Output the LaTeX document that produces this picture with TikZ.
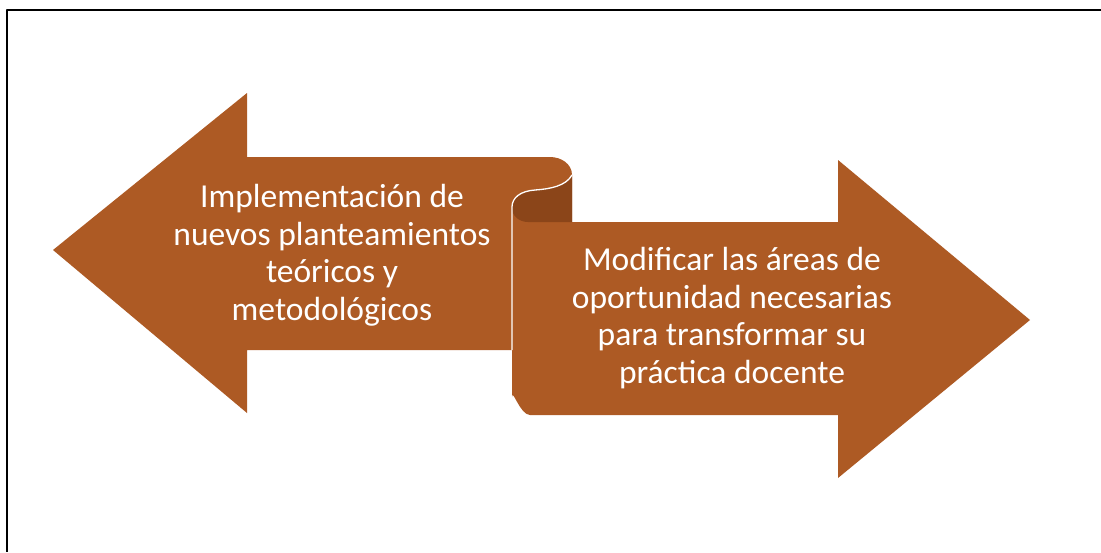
\documentclass[tikz,border=0pt]{standalone}
\usepackage{fontspec}
\setmainfont{Carlito}
\usepackage{tikz}
\definecolor{rust}{HTML}{AD5A24}
\definecolor{rustdk}{HTML}{8B4519}
\definecolor{ink}{HTML}{000000}
\tikzset{fig/.style={line join=round,x=1pt,y=-1pt},
  lbl/.style={text=white,align=center,font=\fontsize{33.5}{37.5}\selectfont}}
\newcommand{\curlEdge}{(572,175).. controls (566,186) and (550,189) .. (535,190).. controls (520,191) and (512,198) .. (512,207)}
\begin{document}
\begin{tikzpicture}[fig]
  \useasboundingbox(0,0)rectangle(1101,552);
  \draw[ink,line width=1.6pt](1101,10)--(7,10)--(7,552);
  % scroll body: left arrow folded into right arrow
  \fill[rust](53,250)--(247,93)--(247,157)--(550,157)to[out=0,in=90](572,175)--(572,222)--(838,222)--(838,160)
   --(1030,320)--(838,478)--(838,415)--(530,415)to[out=180,in=90](512,397)--(512,350)--(247,350)--(247,413)--cycle;
  \fill[rustdk]\curlEdge--(512,208)to[out=-90,in=180](528,222)--(572,222)--cycle;
  \draw[white,line width=1.3pt]\curlEdge--(512,350);
  \node[lbl](impl)at(332,255){Implementación de\\nuevos planteamientos\\teóricos y\\metodológicos};
  \node[lbl](modif)at(732,318){Modificar las áreas de\\oportunidad necesarias\\para transformar su\\práctica docente};
\end{tikzpicture}
\end{document}
